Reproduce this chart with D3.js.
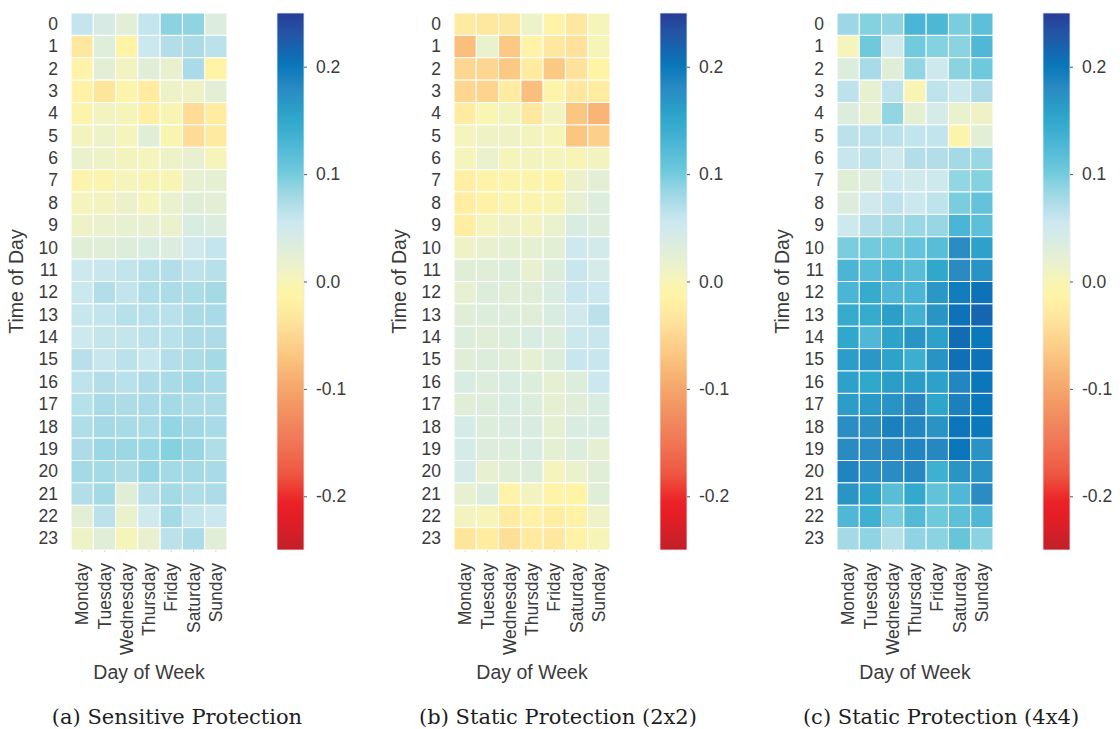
<!DOCTYPE html>
<html>
<head>
<meta charset="utf-8">
<script src="https://cdn.jsdelivr.net/npm/d3@7/dist/d3.min.js"></script>
<style>
  body { margin: 0; background: #ffffff; }
  svg { display: block; }
</style>
</head>
<body>
<svg id="chart" width="1120" height="729"></svg>
<script>
// Day-of-week columns and hour-of-day rows
const days = ["Monday", "Tuesday", "Wednesday", "Thursday", "Friday", "Saturday", "Sunday"];
const hourLabels = ["0","1","2","3","4","5","6","7","8","9","10","11","12","13","14","15","16","17","18","19","20","21","22","23"];

// Colour-bar ticks
const colorTicks = [-0.2, -0.1, 0.0, 0.1, 0.2];
const colorDomain = [-0.25, 0.25];

// (a) Sensitive Protection — one row per hour, Monday..Sunday
const sensitive = [
  [0.060, 0.040, 0.025, 0.060, 0.090, 0.088, 0.035],
  [-0.030, 0.030, -0.015, 0.055, 0.070, 0.075, 0.065],
  [-0.012, 0.025, 0.008, 0.028, 0.018, 0.075, -0.015],
  [-0.018, -0.035, -0.008, -0.025, 0.012, 0.010, 0.025],
  [-0.010, 0.008, 0.003, -0.020, 0.000, -0.045, -0.025],
  [0.006, 0.012, 0.004, 0.028, -0.003, -0.045, -0.028],
  [0.015, 0.012, 0.006, 0.005, 0.012, 0.018, 0.004],
  [-0.008, -0.006, 0.004, 0.000, 0.000, 0.020, 0.022],
  [0.005, 0.007, 0.014, 0.004, 0.016, 0.028, 0.025],
  [0.011, 0.016, 0.020, 0.020, 0.016, 0.038, 0.034],
  [0.028, 0.028, 0.033, 0.038, 0.034, 0.050, 0.060],
  [0.054, 0.058, 0.061, 0.068, 0.070, 0.063, 0.068],
  [0.055, 0.070, 0.061, 0.072, 0.074, 0.074, 0.078],
  [0.058, 0.061, 0.068, 0.067, 0.066, 0.075, 0.076],
  [0.052, 0.059, 0.059, 0.065, 0.066, 0.073, 0.073],
  [0.067, 0.058, 0.065, 0.058, 0.070, 0.074, 0.078],
  [0.063, 0.070, 0.066, 0.073, 0.076, 0.080, 0.076],
  [0.068, 0.076, 0.073, 0.076, 0.078, 0.074, 0.074],
  [0.072, 0.078, 0.076, 0.076, 0.086, 0.080, 0.076],
  [0.073, 0.082, 0.082, 0.083, 0.093, 0.084, 0.072],
  [0.078, 0.078, 0.074, 0.085, 0.078, 0.078, 0.076],
  [0.070, 0.078, 0.028, 0.067, 0.078, 0.072, 0.074],
  [0.025, 0.065, 0.016, 0.050, 0.078, 0.059, 0.055],
  [0.012, 0.028, 0.004, 0.018, 0.065, 0.074, 0.028]
];

// (b) Static Protection (2x2)
const static2x2 = [
  [-0.028, -0.032, -0.031, 0.012, -0.012, -0.032, 0.004],
  [-0.075, 0.016, -0.065, -0.012, -0.032, -0.038, 0.002],
  [-0.050, -0.050, -0.065, -0.025, -0.065, -0.040, -0.015],
  [-0.050, -0.055, -0.025, -0.075, -0.010, -0.030, -0.025],
  [-0.025, -0.002, 0.006, -0.030, 0.007, -0.068, -0.085],
  [0.005, 0.010, 0.010, 0.006, 0.002, -0.068, -0.058],
  [0.004, 0.016, 0.004, 0.006, 0.005, 0.000, 0.007],
  [-0.020, -0.013, -0.010, -0.010, -0.011, 0.014, 0.025],
  [-0.024, -0.016, -0.005, -0.005, 0.000, 0.020, 0.034],
  [-0.024, 0.005, 0.011, 0.007, 0.016, 0.038, 0.034],
  [0.011, 0.018, 0.022, 0.022, 0.025, 0.054, 0.045],
  [0.028, 0.028, 0.033, 0.018, 0.033, 0.058, 0.042],
  [0.020, 0.033, 0.028, 0.028, 0.038, 0.058, 0.055],
  [0.028, 0.033, 0.033, 0.028, 0.038, 0.050, 0.065],
  [0.033, 0.028, 0.033, 0.038, 0.033, 0.055, 0.058],
  [0.028, 0.033, 0.028, 0.022, 0.033, 0.058, 0.058],
  [0.038, 0.033, 0.038, 0.033, 0.022, 0.033, 0.055],
  [0.028, 0.033, 0.038, 0.033, 0.022, 0.028, 0.038],
  [0.043, 0.033, 0.038, 0.038, 0.022, 0.038, 0.038],
  [0.043, 0.033, 0.033, 0.038, 0.022, 0.033, 0.022],
  [0.043, 0.020, 0.028, 0.033, 0.005, 0.016, 0.028],
  [0.020, 0.033, -0.012, 0.007, -0.012, -0.015, 0.028],
  [0.007, 0.002, -0.025, -0.016, -0.024, -0.016, 0.011],
  [-0.035, -0.025, -0.042, -0.027, -0.031, -0.016, 0.002]
];

// (c) Static Protection (4x4)
const static4x4 = [
  [0.082, 0.093, 0.088, 0.130, 0.127, 0.097, 0.115],
  [0.004, 0.103, 0.050, 0.100, 0.093, 0.090, 0.125],
  [0.034, 0.076, 0.028, 0.087, 0.052, 0.090, 0.102],
  [0.064, 0.020, 0.063, 0.000, 0.063, 0.055, 0.073],
  [0.034, 0.020, 0.087, 0.022, 0.043, 0.016, 0.011],
  [0.065, 0.066, 0.066, 0.061, 0.061, -0.010, 0.025],
  [0.058, 0.065, 0.052, 0.070, 0.070, 0.078, 0.083],
  [0.028, 0.034, 0.055, 0.050, 0.052, 0.087, 0.093],
  [0.034, 0.050, 0.063, 0.055, 0.063, 0.097, 0.110],
  [0.052, 0.070, 0.078, 0.083, 0.084, 0.130, 0.115],
  [0.097, 0.100, 0.103, 0.110, 0.118, 0.178, 0.158],
  [0.130, 0.120, 0.130, 0.118, 0.150, 0.180, 0.172],
  [0.130, 0.145, 0.125, 0.130, 0.168, 0.195, 0.205],
  [0.145, 0.145, 0.160, 0.137, 0.170, 0.205, 0.215],
  [0.150, 0.125, 0.155, 0.170, 0.157, 0.210, 0.200],
  [0.162, 0.168, 0.155, 0.140, 0.172, 0.207, 0.205],
  [0.158, 0.150, 0.162, 0.163, 0.157, 0.185, 0.202],
  [0.162, 0.166, 0.172, 0.182, 0.153, 0.190, 0.200],
  [0.177, 0.176, 0.190, 0.185, 0.172, 0.202, 0.200],
  [0.180, 0.178, 0.182, 0.187, 0.182, 0.202, 0.172],
  [0.187, 0.177, 0.178, 0.182, 0.138, 0.170, 0.172],
  [0.170, 0.158, 0.118, 0.148, 0.112, 0.125, 0.178],
  [0.125, 0.138, 0.097, 0.123, 0.103, 0.115, 0.125],
  [0.078, 0.088, 0.068, 0.088, 0.090, 0.108, 0.090]
];

const panels = [
  { caption: "(a) Sensitive Protection", values: sensitive },
  { caption: "(b) Static Protection (2x2)", values: static2x2 },
  { caption: "(c) Static Protection (4x4)", values: static4x4 }
];

// Diverging red–yellow–blue colour map
const cmapStops = [-0.25, -0.22, -0.205, -0.18, -0.15, -0.12, -0.10, -0.07, -0.04, -0.015, 0.0,
                   0.015, 0.03, 0.045, 0.055, 0.075, 0.09, 0.10, 0.125, 0.15, 0.165, 0.18, 0.20, 0.215, 0.23, 0.25];
const cmapColors = ["#c1202a", "#e41e26", "#eb2227", "#ee5540", "#f07656", "#f29262", "#f5a66a", "#fbc47f", "#fee19a", "#fff3a6", "#f8f5b4",
                    "#ebf1cc", "#dfeed9", "#d3eaea", "#cce8ef", "#aadbe7", "#8cd3e2", "#72cbdc", "#50b8d6", "#30a8cc", "#2a9ac7", "#2a8ac2", "#0a78ba", "#1466b0", "#2356a5", "#273c97"];
const color = d3.scaleLinear().domain(cmapStops).range(cmapColors)
  .interpolate(d3.interpolateRgb).clamp(true);

const svg = d3.select("#chart");
const defs = svg.append("defs");

// Shared vertical gradient for the colour bars (bottom = min, top = max)
const grad = defs.append("linearGradient")
  .attr("id", "cbarGrad")
  .attr("x1", 0).attr("y1", 1).attr("x2", 0).attr("y2", 0);
grad.selectAll("stop")
  .data(d3.range(0, 1.0001, 0.01))
  .join("stop")
  .attr("offset", d => d)
  .attr("stop-color", d => color(colorDomain[0] + d * (colorDomain[1] - colorDomain[0])));

const sans = "'Liberation Sans', Arial, Helvetica, sans-serif";
const serif = "'DejaVu Serif', serif";
const textColor = "#3b3b3b";

const panelWidth = 383;
const heatLeft = 71, heatRight = 227, heatTop = 13, heatBottom = 550;
const cbarLeft = 277, cbarWidth = 27;

panels.forEach((p, i) => {
  const g = svg.append("g").attr("transform", `translate(${i * panelWidth},0)`);

  const x = d3.scaleBand().domain(days).range([heatLeft, heatRight]);
  const y = d3.scaleBand().domain(hourLabels).range([heatTop, heatBottom]);

  const cells = [];
  p.values.forEach((row, r) => row.forEach((v, c) => cells.push({ hour: hourLabels[r], day: days[c], v })));

  g.append("g").selectAll("rect")
    .data(cells)
    .join("rect")
    .attr("x", d => x(d.day))
    .attr("y", d => y(d.hour))
    .attr("width", x.bandwidth())
    .attr("height", y.bandwidth())
    .attr("fill", d => color(d.v))
    .attr("stroke", "#ffffff")
    .attr("stroke-width", 1);

  // Hour labels
  const yAxis = g.append("g")
    .attr("transform", `translate(${heatLeft},0)`)
    .call(d3.axisLeft(y).tickSize(0).tickPadding(13));
  yAxis.select(".domain").remove();
  yAxis.selectAll("text")
    .attr("fill", textColor)
    .style("font-family", sans)
    .style("font-size", "17.5px");

  // Day ticks and rotated labels
  const xAxis = g.append("g")
    .attr("transform", `translate(0,${heatBottom})`)
    .call(d3.axisBottom(x).tickSize(2).tickPadding(0));
  xAxis.select(".domain").remove();
  xAxis.selectAll(".tick line").attr("stroke", "#cfcfcf").attr("stroke-width", 0.8);
  xAxis.selectAll("text")
    .attr("fill", textColor)
    .style("font-family", sans)
    .style("font-size", "17.5px")
    .attr("text-anchor", "end")
    .attr("y", 0)
    .attr("dy", "0.35em")
    .attr("transform", "translate(0,13) rotate(-90)");

  // Axis titles
  g.append("text")
    .attr("x", (heatLeft + heatRight) / 2)
    .attr("y", 679)
    .attr("text-anchor", "middle")
    .attr("fill", textColor)
    .style("font-family", sans)
    .style("font-size", "19.5px")
    .text("Day of Week");

  g.append("text")
    .attr("transform", `translate(23,${(heatTop + heatBottom) / 2}) rotate(-90)`)
    .attr("text-anchor", "middle")
    .attr("fill", textColor)
    .style("font-family", sans)
    .style("font-size", "19.5px")
    .text("Time of Day");

  // Colour bar
  const cScale = d3.scaleLinear().domain(colorDomain).range([heatBottom, heatTop]);
  g.append("rect")
    .attr("x", cbarLeft)
    .attr("y", heatTop)
    .attr("width", cbarWidth)
    .attr("height", heatBottom - heatTop)
    .attr("fill", "url(#cbarGrad)")
    .attr("stroke", "#e6eaf0")
    .attr("stroke-width", 0.8);

  const cAxis = g.append("g")
    .attr("transform", `translate(${cbarLeft + cbarWidth},0)`)
    .call(d3.axisRight(cScale).tickValues(colorTicks).tickSize(3).tickPadding(9)
      .tickFormat(d => d.toFixed(1)));
  cAxis.select(".domain").remove();
  cAxis.selectAll(".tick line").attr("stroke", "#555555").attr("stroke-width", 1);
  cAxis.selectAll("text")
    .attr("fill", textColor)
    .style("font-family", sans)
    .style("font-size", "17.5px");

  // Sub-figure caption
  const captionCenters = [177, 175, 175];
  g.append("text")
    .attr("x", captionCenters[i])
    .attr("y", 724)
    .attr("text-anchor", "middle")
    .attr("fill", "#1e1e1e")
    .style("font-family", serif)
    .style("font-size", "21px")
    .text(p.caption);
});
</script>
</body>
</html>
